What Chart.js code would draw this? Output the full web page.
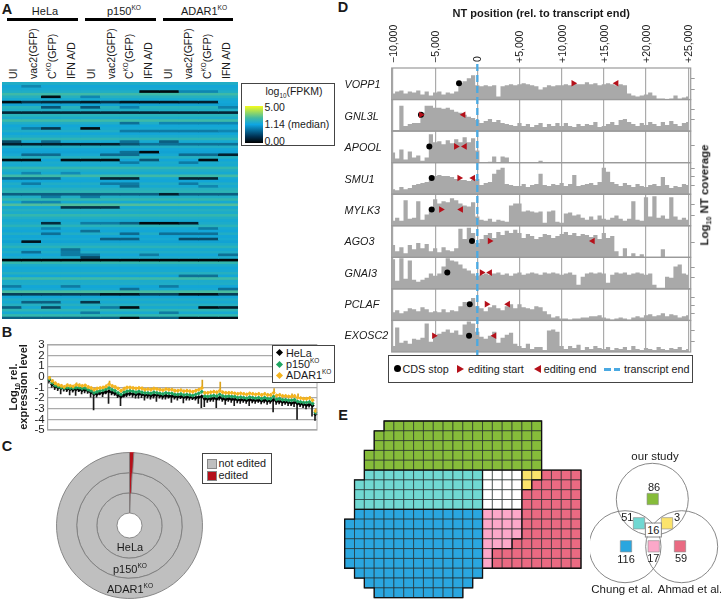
<!DOCTYPE html>
<html>
<head>
<meta charset="utf-8">
<title>Editing figure</title>
<script src="https://cdn.jsdelivr.net/npm/chart.js@4"></script>
<style>
  html, body { margin: 0; background: #fff; width: 721px; height: 599px; overflow: hidden; }
  body { position: relative; font-family: "Liberation Sans", Arial, sans-serif; color: #1a1a1a; }
  canvas { position: absolute; }
  .t { position: absolute; white-space: nowrap; line-height: 1; }
  .t sup { font-size: 0.6em; line-height: 0; }
  .t sub { font-size: 0.6em; line-height: 0; }
  .box { position: absolute; box-sizing: border-box; background: #fff; border: 1px solid #444; }
  .s { position: absolute; }
</style>
</head>
<body>
<script>
// ==========================
// Data: A, heatmap
// ==========================
const heatColumns = ['UI', 'vac2(GFP)', 'C<sup>KO</sup>(GFP)', 'IFN A/D', 'UI', 'vac2(GFP)', 'C<sup>KO</sup>(GFP)', 'IFN A/D', 'UI', 'vac2(GFP)', 'C<sup>KO</sup>(GFP)', 'IFN A/D'];
const heatGroups = ['HeLa', 'p150<sup>KO</sup>', 'ADAR1<sup>KO</sup>'];
const heatBase = [
  1.3, 1.15, 1.2, 1.3, 1.6, 1.35, 1.2, 1.15, 1.1, 1.4,
  1.3, 1.15, 1.4, 1.25, 1.6, 1.3, 1.15, 1.2, 1.3, 1.15,
  1.25, 1.45, 1.2, 1.15, 1.3, 1.15, 1.1, 1.2, 1.35, 1.15,
  1.25, 1.2, 1.5, 1.3, 1.2, 1.6, 1.2, 1.15, 1.3, 1.2,
  1.35, 1.45, 1.2, 1.3, 1.5, 1.2, 1.75, 1.2, 1.35, 1.25,
  1.5, 1.3, 1.2, 1.25, 1.4, 1.2, 1.15, 1.3, 1.15, 1.2,
  1.1, 1.25, 1.4, 1.2, 1.3, 1.15, 1.25, 0.05, 1.5, 1.25,
  1.15, 1.2, 1.35, 1.15, 1.6, 1.25, 1.3, 1.15, 1.2, 1.7,
  1.25, 1.15, 1.3, 1.2, 1.35, 1.2, 1.45, 1.2, 1.5, 1.25
];
// row, first column, last column, log10(FPKM)
const heatDark = [
  [1, 1, 1, 0.85], [3, 7, 8, 0.08], [3, 9, 10, 0.85], [5, 2, 2, 0.12], [5, 4, 4, 0.85],
  [7, 0, 0, 0.1], [7, 1, 1, 0.35], [7, 2, 3, 0.3], [7, 4, 4, 0.2], [7, 5, 5, 0.35], [7, 6, 7, 0.18], [7, 8, 8, 0.18], [7, 9, 10, 0.25],
  [9, 2, 2, 0.5], [9, 4, 4, 0.5], [9, 6, 6, 0.8], [9, 11, 11, 0.8],
  [11, 0, 11, 0.28], [15, 6, 6, 0.65], [15, 8, 11, 0.85],
  [17, 1, 1, 0.75], [17, 2, 2, 0.35], [17, 4, 4, 0.1], [18, 6, 10, 0.75], [18, 11, 11, 0.85],
  [22, 0, 0, 0.45], [22, 2, 2, 0.6], [22, 6, 6, 0.65], [22, 8, 8, 0.55],
  [23, 0, 5, 0.25], [23, 6, 6, 0.5], [23, 7, 11, 0.65],
  [26, 7, 7, 0.08], [26, 6, 6, 0.65], [27, 1, 2, 0.6], [27, 5, 6, 0.6], [27, 9, 10, 0.6], [27, 11, 11, 0.25],
  [29, 0, 1, 0.1], [29, 3, 5, 0.1], [29, 7, 7, 0.5], [29, 10, 10, 0.08], [30, 6, 6, 0.75], [30, 9, 9, 0.75],
  [34, 1, 1, 0.85], [34, 3, 3, 0.9], [36, 0, 2, 0.6], [36, 5, 6, 0.28], [36, 9, 10, 0.28], [38, 1, 1, 0.75], [38, 5, 6, 0.75], [38, 9, 9, 0.75],
  [39, 6, 6, 0.65], [39, 10, 10, 0.85], [42, 0, 11, 0.55], [42, 8, 8, 0.25], [43, 2, 2, 0.75], [43, 4, 4, 0.75],
  [45, 1, 2, 0.85], [47, 3, 5, 0.35],
  [53, 2, 2, 0.3], [53, 4, 5, 0.75], [53, 6, 6, 0.55], [53, 7, 8, 0.08], [53, 9, 9, 0.25],
  [55, 2, 2, 0.85], [55, 10, 10, 0.75], [56, 4, 4, 0.65], [57, 2, 2, 0.65], [57, 6, 6, 0.6], [57, 8, 10, 0.65],
  [59, 5, 6, 0.55], [59, 9, 10, 0.45], [60, 1, 1, 0.15], [63, 3, 3, 0.65], [64, 1, 1, 0.65], [64, 3, 3, 0.75],
  [65, 3, 4, 0.75], [65, 7, 7, 0.75], [65, 11, 11, 0.65], [66, 4, 4, 0.45],
  [73, 9, 10, 0.65], [77, 0, 0, 0.75], [77, 3, 3, 0.75], [77, 8, 8, 0.75], [78, 6, 6, 0.65], [78, 11, 11, 0.65],
  [80, 0, 11, 0.4], [80, 5, 6, 0.18], [80, 9, 10, 0.15], [83, 1, 2, 0.55], [83, 4, 4, 0.35],
  [85, 0, 0, 0.55], [85, 2, 2, 0.45], [85, 5, 5, 0.75], [85, 6, 6, 0.1], [85, 10, 10, 0.1], [85, 11, 11, 0.25],
  [87, 4, 4, 0.75], [87, 8, 8, 0.75], [89, 0, 11, 0.55], [89, 6, 6, 0.1], [89, 9, 11, 0.15]
];

// ==========================
// Data: B, relative expression
// ==========================
const exprLevels = ['3', '2', '1', '0', '-1', '-2', '-3', '-4', '-5'];
const exprHela = [
  -0.3, -0.7, -0.9, -1.0, -1.05, -1.1, -1.15, -1.15, -1.2, -1.15,
  -1.2, -1.25, -1.2, -1.3, -1.45, -1.6, -1.6, -1.5, -1.5, -1.4,
  -1.35, -1.45, -1.55, -1.7, -1.85, -1.7, -1.6, -1.55, -1.6, -1.65,
  -1.6, -1.65, -1.7, -1.7, -1.75, -1.7, -1.7, -1.75, -1.8, -1.75,
  -1.8, -1.8, -1.85, -1.85, -1.85, -1.9, -1.9, -1.9, -1.95, -1.95,
  -1.9, -1.85, -2.05, -2.05, -2.05, -2.0, -2.05, -1.95, -2.05, -2.1,
  -2.05, -2.1, -2.1, -2.15, -2.15, -2.15, -2.2, -2.15, -2.2, -2.2,
  -2.2, -2.25, -2.2, -2.25, -2.25, -2.15, -2.3, -2.3, -2.35, -2.35,
  -2.4, -2.45, -2.4, -2.5, -2.55, -2.6, -2.65, -2.6, -2.7, -3.5
];
const exprP150 = [
  -0.2, -0.55, -0.8, -0.9, -1.0, -1.05, -1.0, -1.05, -1.05, -1.0,
  -1.0, -1.1, -1.05, -1.2, -1.3, -1.5, -1.4, -1.3, -1.25, -1.15,
  -1.05, -1.2, -1.3, -1.5, -1.65, -1.45, -1.35, -1.3, -1.35, -1.45,
  -1.35, -1.45, -1.5, -1.5, -1.55, -1.45, -1.5, -1.55, -1.6, -1.5,
  -1.55, -1.55, -1.65, -1.65, -1.6, -1.7, -1.65, -1.7, -1.75, -1.65,
  -1.55, -1.4, -1.8, -1.85, -1.8, -1.75, -1.8, -1.65, -1.8, -1.85,
  -1.8, -1.85, -1.85, -1.95, -1.9, -1.95, -2.0, -1.9, -1.95, -2.0,
  -1.95, -2.05, -1.95, -2.05, -2.05, -1.85, -2.1, -2.05, -2.15, -2.15,
  -2.2, -2.2, -2.15, -2.3, -2.35, -2.4, -2.4, -2.35, -2.5, -3.35
];
const exprAdar = [
  -0.1, -0.4, -0.6, -0.75, -0.85, -0.95, -0.8, -0.85, -0.9, -0.75,
  -0.8, -0.85, -0.8, -0.95, -1.05, -1.2, -1.1, -1.05, -1.0, -0.9,
  -0.7, -0.85, -0.95, -1.1, -1.3, -1.15, -1.0, -1.0, -1.05, -1.1,
  -1.05, -1.1, -1.2, -1.15, -1.2, -1.1, -1.15, -1.2, -1.25, -1.15,
  -1.2, -1.2, -1.3, -1.3, -1.25, -1.35, -1.3, -1.35, -1.4, -1.3,
  -1.2, -1.05, -1.5, -1.5, -1.45, -1.4, -1.45, -1.3, -1.45, -1.5,
  -1.5, -1.5, -1.55, -1.6, -1.55, -1.6, -1.65, -1.55, -1.6, -1.65,
  -1.6, -1.7, -1.6, -1.7, -1.7, -1.5, -1.75, -1.7, -1.8, -1.8,
  -1.85, -1.85, -1.8, -1.95, -2.0, -2.05, -2.05, -2.0, -2.2, -3.2
];
const exprHelaLow = [
  -0.6, -1.0, -1.2, -1.3, -1.6, -1.35, -1.4, -1.7, -1.45, -1.75,
  -1.4, -1.6, -1.5, -1.55, -1.9, -3.1, -1.9, -1.7, -1.85, -1.6,
  -2.5, -1.7, -1.75, -1.95, -2.7, -1.9, -1.85, -1.8, -1.9, -2.0,
  -2.0, -1.95, -2.2, -2.0, -2.1, -2.0, -2.3, -2.0, -2.1, -2.1,
  -2.0, -2.4, -2.1, -2.2, -2.05, -2.45, -2.2, -2.2, -2.15, -2.2,
  -2.5, -2.9, -2.8, -2.4, -2.3, -2.3, -2.9, -2.2, -2.3, -2.6,
  -2.3, -2.4, -2.7, -2.45, -2.5, -2.4, -2.5, -2.7, -2.45, -2.5,
  -2.4, -2.55, -2.45, -2.6, -2.5, -3.3, -2.6, -2.55, -2.7, -2.6,
  -2.7, -2.7, -2.8, -4.0, -2.8, -2.9, -3.0, -2.85, -3.7, -4.1
];
const exprAdarHigh = [
  0.05, -0.25, -0.5, -0.65, -0.7, -0.85, -0.65, -0.75, -0.8, -0.55,
  -0.65, -0.75, -0.7, -0.85, -0.95, -1.05, -1.0, -0.95, -0.9, -0.75,
  -0.4, -0.75, -0.85, -1.0, -1.2, -0.95, -0.9, -0.9, -0.95, -1.0,
  -0.95, -0.95, -1.1, -1.05, -1.05, -1.0, -1.05, -1.1, -1.15, -1.05,
  -1.1, -1.1, -1.2, -1.2, -1.15, -1.25, -1.2, -1.25, -1.3, -1.2,
  -1.1, -0.3, -1.4, -1.4, -1.35, -1.3, -1.35, -0.5, -1.35, -1.4,
  -1.4, -1.4, -1.45, -1.5, -1.45, -1.5, -1.55, -1.45, -1.5, -1.55,
  -1.5, -1.6, -1.5, -1.6, -1.6, -1.1, -1.65, -1.6, -1.7, -1.7,
  -1.75, -1.6, -1.7, -1.6, -1.9, -1.95, -1.95, -1.85, -2.1, -3.0
];

// ==========================
// Data: C, edited share per ring (%)
// ==========================
const ringNames = ['ADAR1<sup>KO</sup>', 'p150<sup>KO</sup>', 'HeLa'];
const ringEdited = [0.95, 0.8, 0.45];

// ==========================
// Data: D, coverage tracks
// ==========================
const trackNames = ['VOPP1', 'GNL3L', 'APOOL', 'SMU1', 'MYLK3', 'AGO3', 'GNAI3', 'PCLAF', 'EXOSC2'];
const binStart = -10000;
const binSize = 500;
const positionTicks = [-10000, -5000, 0, 5000, 10000, 15000, 20000, 25000];
const covVOPP1 = [6,8,9,6,8,7,9,5,8,4, 7,8,5,7,6,8,16,18,21,24, 14,13,14,13,14,3,13,14,15,14, 15,16,15,14,13,10,12,14,13,14, 14,15,14,16,15,15,17,15,16,14, 15,16,15,14,15,14,6,4,3,4, 5,7,4,1,1,0,1,4,1,2,3];
const covGNL3L = [1,1,25,5,7,8,8,18,25,25, 23,23,22,23,21,19,18,16,14,13, 11,8,10,12,9,11,8,7,6,5, 8,5,7,4,6,8,4,7,5,8, 5,8,5,4,7,5,7,6,9,4, 5,7,9,6,11,12,9,7,5,8, 6,9,7,5,9,6,10,7,5,8,9];
const covAPOOL = [10,4,13,3,11,5,7,2,5,28, 20,21,18,22,19,23,20,25,20,24, 12,0,0,1,6,0,6,5,0,0, 0,0,0,0,0,2,0,0,0,0, 0,0,0,0,0,0,0,0,0,0, 0,0,0,0,0,0,0,0,0,0, 0,0,0,0,0,0,0,0,0,0,0];
const covSMU1 = [5,4,7,5,6,9,10,11,12,14, 18,19,18,18,17,15,14,14,13,14, 15,9,11,12,20,24,26,10,9,8, 8,10,7,9,10,20,9,8,10,9, 11,8,10,19,8,9,10,11,9,12, 26,22,12,10,8,11,9,7,10,8, 7,9,10,8,17,9,6,8,7,10,9];
const covMYLK3 = [5,8,5,25,7,8,24,6,11,18, 26,22,24,23,27,25,22,20,19,23, 9,6,5,7,4,6,5,4,20,22, 22,14,15,14,13,14,3,14,15,4, 3,12,13,10,11,8,6,9,6,10, 7,6,8,10,7,5,7,24,6,5, 28,9,29,8,10,7,28,9,6,8,6];
const covAGO3 = [12,6,10,4,12,8,14,9,13,6, 9,5,10,7,6,9,28,18,29,24, 14,18,22,24,19,25,22,26,24,27, 24,19,23,21,18,20,23,22,19,21, 23,25,22,24,21,23,22,20,22,18, 24,19,21,6,1,9,1,4,1,3, 0,0,0,0,8,0,0,0,0,0,0];
const covGNAI3 = [29,8,30,10,28,9,7,9,11,15, 13,15,22,30,28,27,24,20,18,15, 13,14,15,14,15,16,14,15,13,15, 16,14,15,16,15,14,16,15,16,15, 14,15,16,14,4,12,15,16,15,16, 15,6,14,16,15,16,14,15,16,15, 14,15,4,1,1,12,11,22,24,15,14];
const covPCLAF = [8,10,7,9,12,11,9,13,11,8, 9,8,11,8,10,9,14,18,14,22, 14,12,9,13,15,12,10,14,16,12, 16,13,12,11,14,13,9,6,3,4, 2,2,1,2,2,3,3,4,4,5, 3,2,1,2,3,2,1,3,4,3, 5,6,4,5,7,4,6,5,3,4,5];
const covEXOSC2 = [6,24,9,11,8,13,12,14,28,10, 16,18,20,22,19,21,17,27,30,28, 20,15,13,16,20,9,14,17,19,8, 6,4,8,3,5,5,2,21,22,20, 6,3,6,4,7,2,5,3,6,4, 3,5,2,4,3,5,2,6,3,2, 4,3,2,5,3,2,4,3,5,2,3];
const trackCoverage = [covVOPP1, covGNL3L, covAPOOL, covSMU1, covMYLK3, covAGO3, covGNAI3, covPCLAF, covEXOSC2];
const trackTicks = [[10, 21], [11, 21], [17], [9, 17, 25], [10, 21], [15], [11, 21], [7, 15, 23], [10, 21]];
const cdsStop = [-2170, -6680, -5690, -5410, -5410, -630, -3560, -900, -980];
const editStart = [11390, -6680, -2530, -2130, -4300, 1470, 520, 1110, -5130];
const editEnd = [16500, -1640, -1480, -500, -1930, 13690, 1510, 3640, 2020];
const markerLevel = 16;

// ==========================
// Data: E, waffle and venn
// ==========================
const waffleRows = [
  '....GGGGGGGGGGGGGGGG....',
  '...GGGGGGGGGGGGGGGGG....',
  '...GGGGGGGGGGGGGGGGG....',
  '..GGGGGGGGGGGGGGGGGG....',
  '..GGGGGGGGGGGGGGGGGG....',
  '..TTTTTTTTTTTTWWWWYYRRRR',
  '.TTTTTTTTTTTTTWWWWYRRRRR',
  '.TTTTTTTTTTTTTWWWWRRRRRR',
  '.TTTTTTTTTTTTTWWWWRRRRRR',
  '.BBBBBBBBBBBBBPPPPRRRRRR',
  'BBBBBBBBBBBBBBPPPPRRRRRR',
  'BBBBBBBBBBBBBBPPPPRRRRRR',
  'BBBBBBBBBBBBBBPPPRRRRRRR',
  'BBBBBBBBBBBBBBPRRRRRRRRR',
  'BBBBBBBBBBBBBBPRRRRRRRRR',
  '.BBBBBBBBBBBBB..........',
  '..BBBBBBBBBBB...........',
  '...BBBBBBBBB............'
];
const waffleColors = { G: '#86bc3a', T: '#70d8d2', W: '#ffffff', Y: '#fbe36b', R: '#ea6a82', B: '#2aa6df', P: '#fca8c9' };
const vennCircleX = [62.3, 35, 91.7];
const vennCircleY = [54.3, 101.7, 101.7];
const vennSquareX = [62.7, 49, 77, 36, 63.7, 90];
const vennSquareY = [54, 78.3, 78.3, 101.3, 101.3, 101.3];
const vennSquareColors = ['#86bc3a', '#70d8d2', '#fbe36b', '#2aa6df', '#fca8c9', '#ea6a82'];

// ==========================
// Helpers
// ==========================
Chart.defaults.animation = false;
Chart.defaults.responsive = false;
Chart.defaults.layout.autoPadding = false;
Chart.defaults.font.family = '"Liberation Sans", Arial, sans-serif';
Chart.defaults.color = '#1a1a1a';
Chart.defaults.plugins.legend.display = false;
Chart.defaults.plugins.tooltip.enabled = false;

function crearCanvas(left, top, w, h, bg) {
  const c = document.createElement('canvas');
  c.width = w;
  c.height = h;
  c.style.left = left + 'px';
  c.style.top = top + 'px';
  c.style.width = w + 'px';
  c.style.height = h + 'px';
  if (bg) c.style.background = bg;
  document.body.appendChild(c);
  return c;
}

// text centred on x,y
function texto(html, x, y, size, extra) {
  const d = document.createElement('div');
  d.className = 't';
  d.innerHTML = html;
  d.style.left = x + 'px';
  d.style.top = y + 'px';
  d.style.fontSize = size + 'px';
  d.style.transform = 'translate(-50%,-50%)' + (extra && extra.rot ? ' rotate(' + extra.rot + 'deg)' : '');
  if (extra && extra.bold) d.style.fontWeight = 'bold';
  if (extra && extra.italic) d.style.fontStyle = 'italic';
  document.body.appendChild(d);
  return d;
}

// text starting at x, vertically centred on y
function textoIzq(html, x, y, size, extra) {
  const d = texto(html, x, y, size, extra);
  d.style.transform = 'translateY(-50%)';
  return d;
}

// vertical text whose foot sits at x,y
function textoVertical(html, x, y, size) {
  const d = texto(html, x, y, size);
  d.style.transformOrigin = '0 50%';
  d.style.transform = 'translateY(-50%) rotate(-90deg)';
  return d;
}

function caja(x, y, w, h) {
  const d = document.createElement('div');
  d.className = 'box';
  d.style.cssText = `left:${x}px;top:${y}px;width:${w}px;height:${h}px`;
  document.body.appendChild(d);
  return d;
}

function forma(x, y, css) {
  const d = document.createElement('div');
  d.className = 's';
  d.style.cssText = `left:${x}px;top:${y}px;` + css;
  document.body.appendChild(d);
  return d;
}

function colorHeat(v) {
  const stops = [[0, 0, 0, 0], [0.25, 3, 32, 46], [0.6, 13, 106, 143], [1.14, 18, 166, 216], [1.5, 50, 182, 175], [2, 108, 196, 138], [5, 244, 251, 28]];
  for (let i = 1; i < stops.length; i++) {
    if (v <= stops[i][0]) {
      const a = stops[i - 1], b = stops[i];
      const t = (v - a[0]) / (b[0] - a[0]);
      return `rgb(${a[1] + t * (b[1] - a[1])},${a[2] + t * (b[2] - a[2])},${a[3] + t * (b[3] - a[3])})`;
    }
  }
  return 'rgb(244,251,28)';
}

// ==========================
// Panel A
// ==========================
function panelA() {
  const filas = heatBase.map(v => heatColumns.map(() => v));
  heatDark.forEach(([fila, desde, hasta, v]) => {
    for (let c = desde; c <= hasta; c++) filas[fila][c] = v;
  });

  const canvas = crearCanvas(2, 82, 236, 237, '#15a5dc');
  canvas.style.filter = 'blur(0.45px)';
  new Chart(canvas, {
    type: 'bar',
    data: {
      labels: heatColumns,
      datasets: filas.map(fila => ({
        data: fila.map(() => 1),
        backgroundColor: fila.map(colorHeat),
        barPercentage: 1,
        categoryPercentage: 1,
        borderWidth: 0
      }))
    },
    options: {
      layout: { padding: 0 },
      scales: {
        x: { display: false, stacked: true },
        y: { display: false, stacked: true, reverse: true, min: 0, max: heatBase.length }
      }
    }
  });

  const centros = [45, 124, 204];
  const barras = [[7.3, 77.7], [85, 155.7], [162.7, 233.3]];
  heatGroups.forEach((g, i) => {
    texto(g, centros[i], 11, 11);
    forma(barras[i][0], 18, `width:${barras[i][1] - barras[i][0]}px;height:2.5px;background:#000`);
  });
  const xs = [12.7, 33, 52, 71, 90.7, 110.7, 129.3, 148.3, 167.7, 188.3, 206.7, 225.7];
  heatColumns.forEach((c, i) => textoVertical(c, xs[i], 79, 10.5));

  // colour key
  caja(241, 83, 94, 63);
  texto('log<sub>10</sub>(FPKM)', 294, 91, 10.5);
  forma(244.5, 106, 'width:18px;height:37px;background:linear-gradient(to top,#000 0%,#035 18%,#0ea5e2 50%,#45bba0 68%,#f4fb1c 100%)');
  textoIzq('5.00', 264.5, 106.5, 10.5);
  textoIzq('1.14 (median)', 264.5, 123.5, 10.5);
  textoIzq('0.00', 264.5, 140.5, 10.5);
}

// ==========================
// Panel B
// ==========================
function panelB() {
  const indices = exprHela.map((_, i) => i + 1);
  const puntos = (data, color, order) => ({
    type: 'line', data, showLine: false, pointStyle: 'rectRot', pointRadius: 2.2,
    pointBackgroundColor: color, pointBorderWidth: 0, order
  });
  const barra = (data, color, order) => ({
    type: 'bar', data, backgroundColor: color, barThickness: 1, borderWidth: 0, order
  });

  new Chart(crearCanvas(0, 335, 330, 105), {
    data: {
      labels: indices,
      datasets: [
        puntos(exprAdar, '#f5b41e', 1),
        puntos(exprP150, '#1fa561', 2),
        puntos(exprHela, '#000000', 3),
        barra(exprAdar.map((v, i) => [v, exprAdarHigh[i]]), '#d9a21e', 5),
        barra(exprHela.map((v, i) => [exprHelaLow[i], v]), '#1a1a1a', 4)
      ]
    },
    options: {
      layout: { padding: { top: 7.3, bottom: 9.3, right: 13, left: 0 } },
      scales: {
        x: { display: false, offset: true },
        y: {
          min: -5, max: 3,
          afterBuildTicks: s => { s.ticks = exprLevels.map(v => ({ value: Number(v) })); },
          afterFit: s => { s.width = 47.7; },
          ticks: { font: { size: 11.5 }, padding: 3, color: '#1a1a1a', autoSkip: false, callback: v => String(v) },
          grid: { color: '#aaaaaa', lineWidth: 1.3, drawTicks: false },
          border: { color: '#aaaaaa' }
        }
      }
    },
    plugins: [{
      id: 'marcoB',
      afterDraw(chart) {
        const { ctx, chartArea: a } = chart;
        ctx.strokeStyle = '#aaaaaa';
        ctx.lineWidth = 1;
        ctx.strokeRect(a.left, a.top, a.right - a.left, a.bottom - a.top);
      }
    }]
  });

  texto('Log<sub>10</sub> rel.', 12.5, 387, 11, { rot: -90, bold: true });
  texto('expression level', 23, 387, 11, { rot: -90, bold: true });

  caja(271.7, 345, 63.3, 37.5);
  [['#000', 'HeLa', 352.5], ['#1fa561', 'p150<sup>KO</sup>', 364], ['#f5b41e', 'ADAR1<sup>KO</sup>', 375]].forEach(([c, t, y]) => {
    forma(277, y - 2.5, `width:5px;height:5px;background:${c};transform:rotate(45deg)`);
    textoIzq(t, 286, y, 10.8);
  });
}

// ==========================
// Panel C
// ==========================
function panelC() {
  new Chart(crearCanvas(55, 451, 149, 149), {
    type: 'doughnut',
    data: {
      labels: ['edited', 'not edited'],
      datasets: ringEdited.map(e => ({
        data: [e, 100 - e],
        backgroundColor: ['#b5101a', '#bfbfbf'],
        borderColor: ['#b5101a', '#7f7f7f'],
        borderWidth: 0.9
      }))
    },
    options: { radius: 73, cutout: 12.7, layout: { padding: 0 } }
  });

  texto(ringNames[2], 130, 546.7, 11);
  texto(ringNames[1], 130, 569, 11);
  texto(ringNames[0], 130, 589, 11);

  caja(202, 453, 70, 30.5);
  forma(206.5, 459, 'width:8px;height:8px;background:#bfbfbf;border:0.5px solid #888');
  forma(206.5, 471, 'width:8px;height:8px;background:#b5101a;border:0.5px solid #888');
  textoIzq('not edited', 218.5, 462.5, 10.8);
  textoIzq('edited', 218.5, 474.5, 10.8);
}

// ==========================
// Panel D
// ==========================
function panelD() {
  const datasets = [];
  const scales = {
    x: {
      type: 'linear', position: 'top', min: -10150, max: 25300,
      afterBuildTicks: s => { s.ticks = positionTicks.map(v => ({ value: v })); },
      afterFit: s => { s.height = 68; },
      title: {
        display: true, text: 'NT position (rel. to transcript end)',
        font: { size: 11, weight: 'bold' }, color: '#1a1a1a', padding: { top: 7, bottom: 0 }
      },
      ticks: { display: false },
      grid: { color: '#ababab', lineWidth: 1.2, drawTicks: false },
      border: { display: false }
    }
  };

  trackNames.forEach((n, i) => {
    const y = 'y' + i;
    const marca = (x, style, color, rot, radius, order) => ({
      type: 'line', data: [{ x, y: markerLevel }], xAxisID: 'x', yAxisID: y, showLine: false,
      pointStyle: style, pointRotation: rot, pointRadius: radius, pointBackgroundColor: color,
      pointBorderWidth: 0, order, clip: false
    });
    datasets.push(marca(cdsStop[i], 'circle', '#000000', 0, 3, 2));
    datasets.push(marca(editStart[i], 'triangle', '#b5101a', 90, 3.8, 1));
    datasets.push(marca(editEnd[i], 'triangle', '#b5101a', -90, 3.8, 1));
    datasets.push({
      type: 'line',
      data: trackCoverage[i].map((v, k) => ({ x: binStart + k * binSize, y: v })),
      xAxisID: 'x', yAxisID: y, fill: 'origin', backgroundColor: '#a9a9a9',
      borderWidth: 0, pointRadius: 0, stepped: 'middle', order: 5
    });
    scales[y] = {
      type: 'linear', axis: 'y', position: 'right', stack: 'tracks', stackWeight: 1,
      min: 0, max: 31,
      afterBuildTicks: s => { s.ticks = trackTicks[i].map(v => ({ value: v })); },
      ticks: { display: false },
      grid: { drawOnChartArea: false, color: '#808080', tickLength: 4, lineWidth: 0.8 },
      border: { display: false }
    };
  });

  const grafico = new Chart(crearCanvas(340, 0, 381, 358), {
    type: 'line',
    data: { datasets },
    options: {
      layout: { padding: { left: 51.7, right: 26.3, bottom: 6, top: 0 } },
      scales
    },
    plugins: [{
      id: 'marcoTracks',
      afterDatasetsDraw(chart) {
        const { ctx, chartArea: a } = chart;
        ctx.save();
        ctx.strokeStyle = '#9a9a9a';
        ctx.lineWidth = 1.2;
        trackNames.forEach((_, i) => {
          const s = chart.scales['y' + i];
          ctx.strokeRect(a.left, s.top, a.right - a.left, s.bottom - s.top);
        });
        const x0 = chart.scales.x.getPixelForValue(0);
        ctx.strokeStyle = '#4aa9e2';
        ctx.lineWidth = 2.3;
        ctx.setLineDash([7, 4]);
        ctx.beginPath();
        ctx.moveTo(x0, 64);
        ctx.lineTo(x0, a.bottom + 3);
        ctx.stroke();
        ctx.restore();
      }
    }]
  });

  // tick labels sit on the x scale, as page text (Chart.js shifts rotated labels on a top axis)
  positionTicks.forEach(v => {
    const etiqueta = v === 0 ? '0' : (v > 0 ? '+' : '\u2212') + Math.abs(v).toLocaleString('en-US');
    textoVertical(etiqueta, 340 + grafico.scales.x.getPixelForValue(v), v === 0 ? 62 : 63, 10.5);
  });

  const ys = [84, 115.5, 147, 178.5, 209.5, 241, 272.5, 303.5, 334.5];
  trackNames.forEach((n, i) => textoIzq(n, 344.5, ys[i], 10.8, { italic: true }));
  texto('Log<sub>10</sub> NT coverage', 705, 194.5, 11.5, { rot: -90, bold: true });

  caja(388.3, 355, 305, 27.5);
  forma(393.5, 365, 'width:7px;height:7px;border-radius:50%;background:#000');
  textoIzq('CDS stop', 402.5, 369, 10.8);
  forma(457, 365, 'width:0;height:0;border-top:4px solid transparent;border-bottom:4px solid transparent;border-left:7.5px solid #b5101a');
  textoIzq('editing start', 468, 369, 10.8);
  forma(533.5, 365, 'width:0;height:0;border-top:4px solid transparent;border-bottom:4px solid transparent;border-right:7.5px solid #b5101a');
  textoIzq('editing end', 543.7, 369, 10.8);
  forma(604, 368, 'width:7px;height:2.5px;background:#4aa9e2');
  forma(614, 368, 'width:6px;height:2.5px;background:#4aa9e2');
  textoIzq('transcript end', 624, 369, 10.8);
}

// ==========================
// Panel E
// ==========================
function panelE() {
  const celdas = [];
  waffleRows.forEach((fila, r) => {
    [...fila].forEach((k, c) => {
      if (k !== '.') celdas.push({ x: c, y: r, k });
    });
  });

  new Chart(crearCanvas(343, 419, 240, 181), {
    type: 'scatter',
    data: {
      datasets: [{
        data: celdas,
        pointStyle: 'rect',
        pointRadius: 6.97,
        pointBackgroundColor: celdas.map(p => waffleColors[p.k]),
        pointBorderColor: 'rgba(30,40,40,0.8)',
        pointBorderWidth: 0.8,
        clip: false
      }]
    },
    options: {
      layout: { padding: { left: 1.67, right: 2, top: 2, bottom: 2.3 } },
      scales: {
        x: { display: false, min: -0.5, max: 23.5 },
        y: { display: false, min: -0.5, max: 17.5, reverse: true }
      }
    },
    plugins: [{
      id: 'bordesGrupos',
      afterDatasetsDraw(chart) {
        const { ctx, scales: { x, y } } = chart;
        const clave = (r, c) => (waffleRows[r] && waffleRows[r][c]) || '.';
        ctx.save();
        ctx.strokeStyle = '#111';
        ctx.lineWidth = 1.3;
        ctx.lineCap = 'square';
        ctx.beginPath();
        celdas.forEach(p => {
          const x1 = x.getPixelForValue(p.x - 0.5), x2 = x.getPixelForValue(p.x + 0.5);
          const y1 = y.getPixelForValue(p.y - 0.5), y2 = y.getPixelForValue(p.y + 0.5);
          if (clave(p.y - 1, p.x) !== p.k) { ctx.moveTo(x1, y1); ctx.lineTo(x2, y1); }
          if (clave(p.y + 1, p.x) !== p.k) { ctx.moveTo(x1, y2); ctx.lineTo(x2, y2); }
          if (clave(p.y, p.x - 1) !== p.k) { ctx.moveTo(x1, y1); ctx.lineTo(x1, y2); }
          if (clave(p.y, p.x + 1) !== p.k) { ctx.moveTo(x2, y1); ctx.lineTo(x2, y2); }
        });
        ctx.stroke();
        ctx.restore();
      }
    }]
  });

  new Chart(crearCanvas(590, 445, 131, 154), {
    type: 'scatter',
    data: {
      datasets: [
        {
          data: vennSquareX.map((x, i) => ({ x, y: vennSquareY[i] })),
          pointStyle: 'rect', pointRadius: 8,
          pointBackgroundColor: vennSquareColors,
          pointBorderColor: '#888888', pointBorderWidth: 0.6, order: 1
        },
        {
          data: vennCircleX.map((x, i) => ({ x, y: vennCircleY[i] })),
          pointRadius: 36, pointBackgroundColor: 'rgba(0,0,0,0)',
          pointBorderColor: '#7a7a7a', pointBorderWidth: 0.9, order: 2, clip: false
        }
      ]
    },
    options: {
      layout: { padding: 0 },
      scales: {
        x: { display: false, min: 0, max: 131 },
        y: { display: false, min: 0, max: 154, reverse: true }
      }
    }
  });

  texto('our study', 655, 456.7, 11.5);
  texto('86', 654, 486.7, 11);
  texto('51', 627.3, 517, 11);
  texto('3', 677, 517, 11);
  const c16 = texto('16', 653.3, 530, 11);
  c16.style.background = '#fff';
  c16.style.outline = '0.6px solid #888';
  c16.style.padding = '1px';
  texto('116', 626, 559, 11);
  texto('17', 653.3, 558, 11);
  texto('59', 681, 558, 11);
  texto('Chung et al.', 622.3, 590, 11.5);
  texto('Ahmad et al.', 690, 590, 11.5);
}

// ==========================
// Panel letters
// ==========================
[['A', 7, 9], ['B', 7, 332], ['C', 7, 446], ['D', 343, 7], ['E', 343, 415]].forEach(([l, x, y]) => {
  texto(l, x, y, 14.5, { bold: true });
});

panelA();
panelB();
panelC();
panelD();
panelE();
</script>
</body>
</html>
